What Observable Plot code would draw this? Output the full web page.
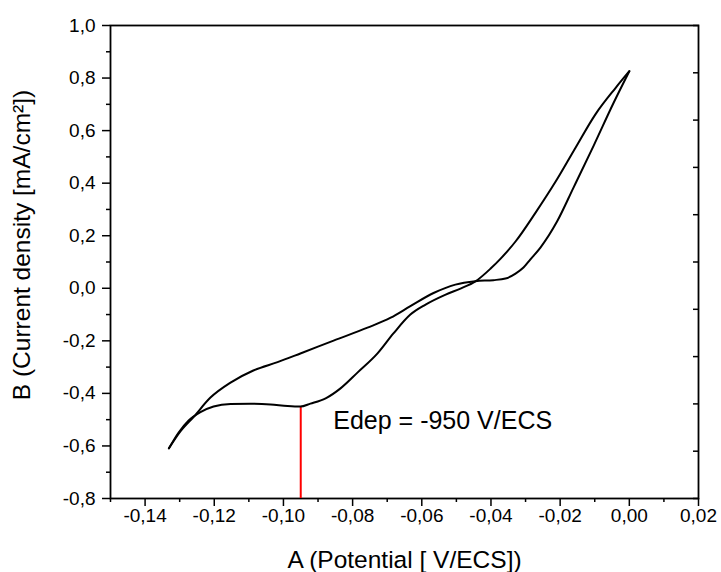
<!DOCTYPE html>
<html>
<head>
<meta charset="utf-8">
<script src="https://cdn.jsdelivr.net/npm/d3@7"></script>
<script src="https://cdn.jsdelivr.net/npm/@observablehq/plot@0.6"></script>
<style>
  html, body { margin: 0; padding: 0; background: #fff; }
  #chart svg { display: block; }
</style>
</head>
<body>
<div id="chart"></div>
<script>
// ---- data ----
// Branch B: from the vertex at 0 V down to the cathodic limit (lower loop on the left)
const potentialB = [0.000, -0.0040, -0.0098, -0.0156, -0.0213, -0.0271, -0.0329, -0.0372, -0.0401, -0.0445,
  -0.0488, -0.0531, -0.0589, -0.0633, -0.0682, -0.0728, -0.0786, -0.0835, -0.0878, -0.0922,
  -0.0951, -0.0988, -0.1037, -0.1095, -0.1153, -0.1202, -0.1240, -0.1274, -0.1303, -0.1331];
const currentB = [0.826, 0.762, 0.662, 0.534, 0.406, 0.288, 0.178, 0.113, 0.075, 0.026,
  -0.001, -0.024, -0.062, -0.100, -0.172, -0.248, -0.321, -0.381, -0.419, -0.439,
  -0.450, -0.448, -0.442, -0.439, -0.440, -0.450, -0.471, -0.503, -0.549, -0.609];
// Branch A: from the cathodic limit back up to the vertex (upper loop on the left)
const potentialA = [-0.1331, -0.1298, -0.1260, -0.1211, -0.1153, -0.1087, -0.1017, -0.0951, -0.0855, -0.0757,
  -0.0690, -0.0633, -0.0566, -0.0503, -0.0445, -0.0393, -0.0358, -0.0329, -0.0306, -0.0286,
  -0.0257, -0.0209, -0.0161, -0.0103, -0.0045, 0.000];
const currentA = [-0.609, -0.545, -0.490, -0.416, -0.359, -0.313, -0.281, -0.248, -0.199, -0.150,
  -0.112, -0.068, -0.018, 0.014, 0.027, 0.031, 0.037, 0.056, 0.079, 0.110,
  0.155, 0.254, 0.384, 0.543, 0.707, 0.826];

// Deposition potential marker
const markerPotential = [-0.095];
const markerBottom = [-0.8];
const markerTop = [-0.45];
const markerLabel = ["Edep = -950 V/ECS"];
const markerLabelPos = [{x: -0.0856, y: -0.534}];

// Tick values
const xMajorTicks = [-0.14, -0.12, -0.10, -0.08, -0.06, -0.04, -0.02, 0.00, 0.02];
const xMinorTicks = [-0.15, -0.13, -0.11, -0.09, -0.07, -0.05, -0.03, -0.01, 0.01];
const yMajorTicks = [-0.8, -0.6, -0.4, -0.2, 0.0, 0.2, 0.4, 0.6, 0.8, 1.0];
const yMinorTicks = [-0.7, -0.5, -0.3, -0.1, 0.1, 0.3, 0.5, 0.7, 0.9];
const yRightTicks = [-0.8, -0.62, -0.44, -0.26, -0.08, 0.10, 0.28, 0.46, 0.64, 0.82, 1.0];

const xTitle = "A (Potential [ V/ECS])";
const yTitle = "B (Current density [mA/cm²])";

// ---- build ----
const curve = [
  ...potentialB.map((x, i) => ({x, y: currentB[i], branch: "B"})).reverse(),
  ...potentialA.map((x, i) => ({x, y: currentA[i], branch: "A"}))
];
const marker = markerPotential.map((x, i) => ({x, y1: markerBottom[i], y2: markerTop[i]}));

const locale = d3.formatLocale({decimal: ",", thousands: ".", grouping: [3], currency: ["", ""], minus: "-"});
const f1 = locale.format(".1f");
const f2 = locale.format(".2f");
const blank = () => "";

const chart = Plot.plot({
  width: 721,
  height: 572,
  marginLeft: 110,
  marginRight: 23,
  marginTop: 25,
  marginBottom: 74,
  style: {fontFamily: "'Liberation Sans', Arial, sans-serif", fontSize: "19px", color: "#000", background: "#fff"},
  x: {domain: [-0.15, 0.02], label: null},
  y: {domain: [-0.8, 1.0], label: null},
  marks: [
    Plot.axisY({ticks: yMajorTicks, anchor: "left", tickSize: 8, tickPadding: 7, tickFormat: f1, label: null, strokeWidth: 1.5, fontSize: 19}),
    Plot.axisY({ticks: yMinorTicks, anchor: "left", tickSize: 4, tickFormat: blank, label: null, strokeWidth: 1.5}),
    Plot.axisX({ticks: xMajorTicks, anchor: "bottom", tickSize: 8, tickPadding: 2, tickFormat: f2, label: null, strokeWidth: 1.5, fontSize: 19}),
    Plot.axisX({ticks: xMinorTicks, anchor: "bottom", tickSize: 4, tickFormat: blank, label: null, strokeWidth: 1.5}),
    Plot.axisY({ticks: yRightTicks, anchor: "right", tickSize: 6, dx: -6, tickFormat: blank, label: null, strokeWidth: 1.5}),
    Plot.frame({stroke: "#000", strokeWidth: 1.8}),
    Plot.ruleX(marker, {x: "x", y1: "y1", y2: "y2", stroke: "#ff0000", strokeWidth: 2}),
    Plot.line(curve, {x: "x", y: "y", z: "branch", stroke: "#000", strokeWidth: 2, curve: "monotone-x"}),
    Plot.text(markerLabel, {x: () => markerLabelPos[0].x, y: () => markerLabelPos[0].y, text: d => d, textAnchor: "start", lineAnchor: "bottom", fontSize: 25, fill: "#000"}),
    Plot.text([xTitle], {frameAnchor: "bottom", dy: 69, text: d => d, textAnchor: "middle", lineAnchor: "bottom", fontSize: 24.5, fill: "#000"}),
    Plot.text([yTitle], {frameAnchor: "left", rotate: -90, dx: -81, dy: -17, text: d => d, textAnchor: "middle", lineAnchor: "bottom", fontSize: 24.5, fill: "#000"})
  ]
});
document.getElementById("chart").appendChild(chart);
</script>
</body>
</html>
